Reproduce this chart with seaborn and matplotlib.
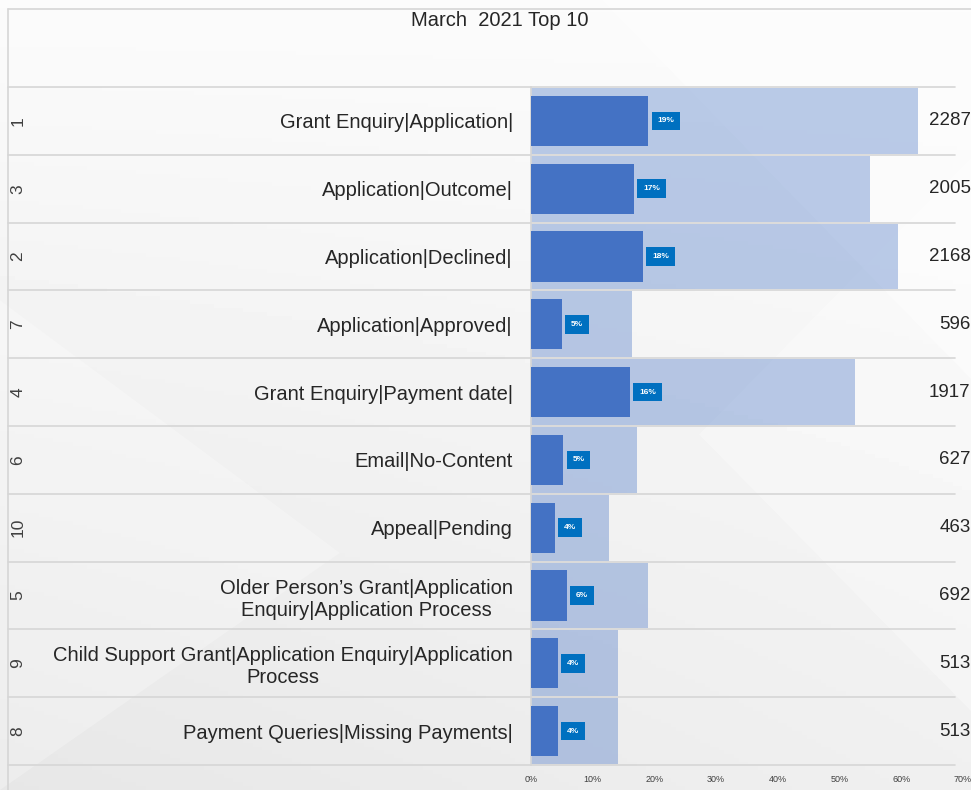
import matplotlib
matplotlib.use("Agg")
import matplotlib.pyplot as plt
import matplotlib.transforms as mtransforms
from matplotlib.lines import Line2D
from matplotlib.patches import Polygon
import numpy as np
import pandas as pd
import seaborn as sns

TITLE = "March  2021 Top 10"
RANKS = ["1", "3", "2", "7", "4", "6", "10", "5", "9", "8"]
CATEGORIES = [
    "Grant Enquiry|Application|",
    "Application|Outcome|",
    "Application|Declined|",
    "Application|Approved|",
    "Grant Enquiry|Payment date|",
    "Email|No-Content",
    "Appeal|Pending",
    "Older Person\u2019s Grant|Application\nEnquiry|Application Process",
    "Child Support Grant|Application Enquiry|Application\nProcess",
    "Payment Queries|Missing Payments|",
]
COUNTS = [2287, 2005, 2168, 596, 1917, 627, 463, 692, 513, 513]
SHARE_PCT = [19.0, 16.7, 18.1, 5.0, 16.0, 5.2, 3.9, 5.8, 4.3, 4.3]
PCT_TICKS = [0, 10, 20, 30, 40, 50, 60, 70]
COUNT_AXIS_MAX = 2553

BLUE = "#4472c4"
LABEL_BLUE = "#0070c0"
TEXT = "#262626"
GRID = "#d6d6d6"

W, H = 971, 790


def main() -> None:
    sns.set_theme(style="white")
    plt.rcParams["font.family"] = ["Liberation Sans", "DejaVu Sans"]

    df = pd.DataFrame({"category": CATEGORIES, "count": COUNTS, "share": SHARE_PCT})
    n = len(CATEGORIES)

    fig = plt.figure(figsize=(W / 100, H / 100), dpi=100)

    # soft grey background with a couple of light diagonal shapes
    bg = fig.add_axes([0, 0, 1, 1], zorder=-10)
    yy, xx = np.mgrid[0:1:200j, 0:1:200j]
    shade = 0.985 - 0.045 * yy - 0.035 * (1 - xx) * yy
    bg.imshow(shade, cmap="gray", vmin=0, vmax=1, extent=[0, 1, 0, 1],
              aspect="auto", origin="upper")
    bg.add_patch(Polygon([[0.62, 1], [1, 1], [1, 0.52]], closed=True,
                         fc="white", ec="none", alpha=0.45))
    bg.add_patch(Polygon([[0.72, 0.45], [1, 0.1], [1, 0.8]], closed=True,
                         fc="white", ec="none", alpha=0.3))
    bg.add_patch(Polygon([[0, 0.62], [0.35, 0.3], [0, 0.0]], closed=True,
                         fc="white", ec="none", alpha=0.25))
    bg.set_xlim(0, 1)
    bg.set_ylim(0, 1)
    bg.axis("off")

    ax = fig.add_axes([531 / W, (H - 765) / H, 432 / W, 678 / H])
    ax.set_facecolor("none")

    # total volume bars (count scale)
    sns.barplot(data=df, x="count", y="category", color=BLUE, alpha=0.36,
                width=0.97, orient="h", ax=ax, saturation=1, linewidth=0)
    ax.set_xlim(0, COUNT_AXIS_MAX)

    # share bars (percentage scale)
    ax2 = ax.twiny()
    sns.barplot(data=df, x="share", y="category", color=BLUE, width=0.74,
                orient="h", ax=ax2, saturation=1, linewidth=0)
    ax2.set_xlim(0, 70)
    ax.set_ylim(n - 0.5, -0.5)

    for i, p in enumerate(SHARE_PCT):
        ax2.text(p + 1.5, i, f"{p:.0f}%", ha="left", va="center", fontsize=6,
                 fontweight="bold", color="white",
                 bbox=dict(boxstyle="square,pad=0.7", fc=LABEL_BLUE, ec="none"))

    ax.set_yticks(range(n))
    ax.set_yticklabels(CATEGORIES, fontsize=14.5, color=TEXT, multialignment="center")
    ax.tick_params(axis="y", length=0, pad=13)
    ax.set_xticks([])
    ax.set_xlabel("")
    ax.set_ylabel("")

    ax2.set_xticks(PCT_TICKS)
    ax2.set_xticklabels([f"{t}%" for t in PCT_TICKS], fontsize=6.5, color="#404040")
    ax2.xaxis.set_ticks_position("bottom")
    ax2.xaxis.set_label_position("bottom")
    ax2.tick_params(axis="x", length=0, pad=7)
    ax2.set_xlabel("")

    for spine in ax.spines.values():
        spine.set_visible(False)
    for spine in ax2.spines.values():
        spine.set_visible(False)
    ax.spines["left"].set_visible(True)
    ax.spines["left"].set_color(GRID)

    trans = mtransforms.blended_transform_factory(fig.transFigure, ax.transData)
    for b in np.arange(n + 1) - 0.5:
        ax.plot([8 / W, 955 / W], [b, b], transform=trans, color=GRID, lw=1.2,
                clip_on=False, zorder=0)
    for i, (r, c) in enumerate(zip(RANKS, COUNTS)):
        ax.text(18 / W, i, r, rotation=90, transform=trans, ha="center",
                va="center", fontsize=12.5, color="#404040")
        ax.text(0.9995, i, f"{c}", transform=trans, ha="right", va="center",
                fontsize=13.5, color=TEXT, clip_on=False)

    # chart frame
    fig.add_artist(Line2D([8 / W, 8 / W], [0, 1 - 9 / H], color=GRID, lw=1.2))
    fig.add_artist(Line2D([8 / W, 1], [1 - 9 / H, 1 - 9 / H], color=GRID, lw=1.2))

    fig.text(500 / W, 1 - 20 / H, TITLE, ha="center", va="center",
             fontsize=14.5, color=TEXT)

    fig.savefig("out.png", dpi=100)


if __name__ == "__main__":
    main()
